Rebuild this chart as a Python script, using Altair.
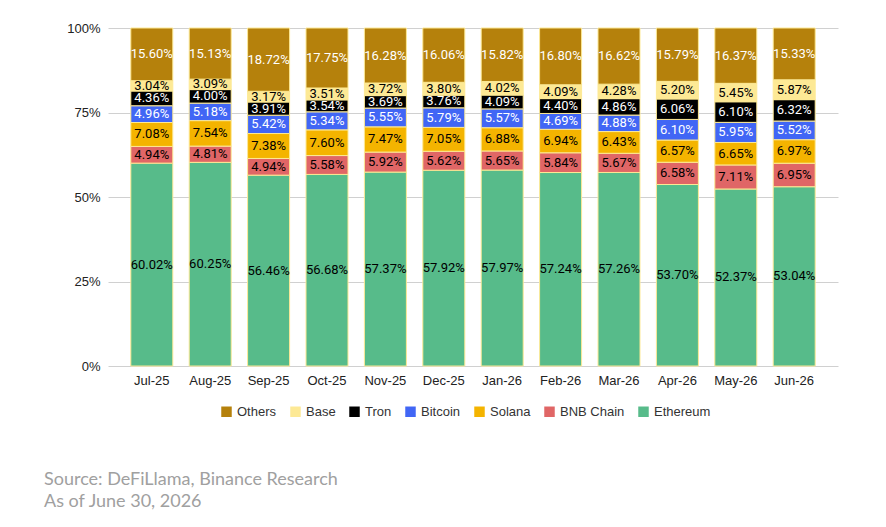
import altair as alt
import pandas as pd

months = ["Jul-25", "Aug-25", "Sep-25", "Oct-25", "Nov-25", "Dec-25",
          "Jan-26", "Feb-26", "Mar-26", "Apr-26", "May-26", "Jun-26"]
series = ["Ethereum", "BNB Chain", "Solana", "Bitcoin", "Tron", "Base", "Others"]
colors = ["#57bb8a", "#e06666", "#f4b400", "#4166f5", "#000000", "#fde995", "#b5810c"]
label_colors = ["#000000", "#000000", "#000000", "#ffffff", "#ffffff", "#000000", "#ffffff"]

ethereum = [60.02, 60.25, 56.46, 56.68, 57.37, 57.92, 57.97, 57.24, 57.26, 53.70, 52.37, 53.04]
bnb = [4.94, 4.81, 4.94, 5.58, 5.92, 5.62, 5.65, 5.84, 5.67, 6.58, 7.11, 6.95]
solana = [7.08, 7.54, 7.38, 7.60, 7.47, 7.05, 6.88, 6.94, 6.43, 6.57, 6.65, 6.97]
bitcoin = [4.96, 5.18, 5.42, 5.34, 5.55, 5.79, 5.57, 4.69, 4.88, 6.10, 5.95, 5.52]
tron = [4.36, 4.00, 3.91, 3.54, 3.69, 3.76, 4.09, 4.40, 4.86, 6.06, 6.10, 6.32]
base = [3.04, 3.09, 3.17, 3.51, 3.72, 3.80, 4.02, 4.09, 4.28, 5.20, 5.45, 5.87]
others = [15.60, 15.13, 18.72, 17.75, 16.28, 16.06, 15.82, 16.80, 16.62, 15.79, 16.37, 15.33]
source_lines = ["Source: DeFiLlama, Binance Research", "As of June 30, 2026"]

values = [ethereum, bnb, solana, bitcoin, tron, base, others]
rows = []
for i, s in enumerate(series):
    for m, v in zip(months, values[i]):
        rows.append({"month": m, "series": s, "value": v / 100, "order": i,
                     "label": f"{v:.2f}%", "lc": label_colors[i]})
df = pd.DataFrame(rows)

base_chart = alt.Chart(df).transform_stack(
    stack="value", groupby=["month"], sort=[alt.SortField("order")], as_=["y0", "y1"]
).transform_calculate(mid="(datum.y0 + datum.y1) / 2")

x_enc = alt.X("month:N", sort=months, title=None,
              scale=alt.Scale(paddingOuter=0.3),
              axis=alt.Axis(labelAngle=0, labelFontSize=13, labelColor="#222", ticks=False,
                            domain=False, labelPadding=8, labelFont="Arial"))

bars = base_chart.mark_bar(size=42, stroke="#fde995", strokeWidth=1).encode(
    x=x_enc,
    y=alt.Y("y0:Q", title=None, scale=alt.Scale(domain=[0, 1]),
            axis=alt.Axis(format="%", values=[0, 0.25, 0.5, 0.75, 1], labelFontSize=13,
                          labelColor="#222", ticks=False, domain=False, gridColor="#d0d0d0",
                          labelPadding=8, labelFont="Arial")),
    y2="y1:Q",
    color=alt.Color("series:N", scale=alt.Scale(domain=series[::-1], range=colors[::-1]),
                    legend=alt.Legend(title=None, orient="none", direction="horizontal",
                                      legendX=112, legendY=377, symbolType="square",
                                      symbolSize=110, symbolStrokeWidth=0, labelFontSize=13,
                                      labelColor="#333", labelFont="Arial", columnPadding=12)),
)

labels = base_chart.mark_text(fontSize=13, font="Roboto").encode(
    x=alt.X("month:N", sort=months),
    y=alt.Y("mid:Q"),
    text="label:N",
    color=alt.Color("lc:N", scale=None),
)

src1 = alt.Chart(pd.DataFrame({"t": [source_lines[0]]})).mark_text(
    align="left", fontSize=18, font="Lato", color="#a0a0a0"
).encode(x=alt.value(-64), y=alt.value(452), text="t:N")
src2 = alt.Chart(pd.DataFrame({"t": [source_lines[1]]})).mark_text(
    align="left", fontSize=18, font="Lato", color="#a0a0a0"
).encode(x=alt.value(-64), y=alt.value(474), text="t:N")

chart = alt.layer(bars, labels, src1, src2).properties(
    width=730, height=338, padding={"left": 100, "top": 20, "right": 40, "bottom": 160},
    autosize=alt.AutoSizeParams(type="none"),
).configure_view(stroke=None)

chart.save("out.html", embed_options={"renderer": "svg", "actions": False})
